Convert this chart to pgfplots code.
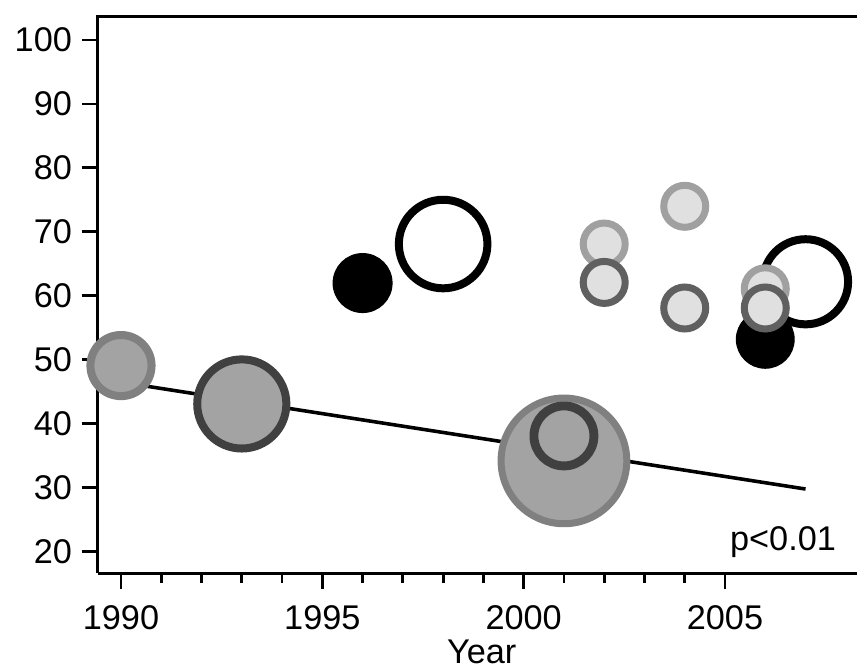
\documentclass[border=0pt]{standalone}
\usepackage{fontspec}
\setmainfont{Liberation Sans}
\usepackage{pgfplots}
\pgfplotsset{compat=1.18}
\definecolor{bigfill}{RGB}{163,163,163}
\definecolor{edgemid}{RGB}{128,128,128}
\definecolor{edgedark}{RGB}{64,64,64}
\definecolor{smallfill}{RGB}{224,224,224}
\definecolor{edgelight}{RGB}{160,160,160}
\definecolor{edgesmalldark}{RGB}{96,96,96}
\begin{document}
\begin{tikzpicture}[font=\fontsize{12}{14}\selectfont]
\begin{axis}[
  scale only axis, width=265.65pt, height=194.95pt,
  at={(0,0)}, anchor=south west,
  xmin=1989.429, xmax=2008.278, ymin=16.67, ymax=103.75,
  axis x line*=bottom, axis y line*=left,
  axis line style={line width=1.05pt, -},
  every tick/.style={black, line width=1pt},
  tick align=outside,
  major tick length=5.6pt, minor tick length=3.5pt,
  xtick={1990,1995,2000,2005}, minor x tick num=4,
  ytick={20,30,40,50,60,70,80,90,100},
  xticklabel style={yshift=-2.3pt},
  /pgf/number format/1000 sep={},
  /pgf/number format/assume math mode=true,
  clip=false, axis on top,
  xlabel={Year},
  xlabel style={at={(axis description cs:0.5055,0)}, anchor=base, yshift=-31.5pt, inner sep=0pt},
]
% large bubbles
\addplot[only marks, mark=*, mark size=10.7pt, mark options={fill=bigfill, draw=edgemid, line width=2.8pt}] coordinates {(1990,49.1)};
\addplot[only marks, mark=*, mark size=15.6pt, mark options={fill=bigfill, draw=edgedark, line width=2.8pt}] coordinates {(1993,43.1)};
\addplot[only marks, mark=*, mark size=22pt, mark options={fill=bigfill, draw=edgemid, line width=2.45pt}] coordinates {(2001,34.2)};
\addplot[only marks, mark=*, mark size=10.5pt, mark options={fill=bigfill, draw=edgedark, line width=3.1pt}] coordinates {(2001,38.1)};
% black filled and open circles
\addplot[only marks, mark=*, mark size=10.3pt, mark options={fill=black, draw=none}] coordinates {(1996,62)};
\addplot[only marks, mark=o, mark size=15.5pt, mark options={draw=black, fill=none, line width=2.8pt}] coordinates {(1998,68.1)};
% small light circles
\addplot[only marks, mark=*, mark size=7.35pt, mark options={fill=smallfill, draw=edgelight, line width=2.45pt}] coordinates {(2002,68.1)};
\addplot[only marks, mark=*, mark size=7.35pt, mark options={fill=smallfill, draw=edgesmalldark, line width=2.45pt}] coordinates {(2002,62.1)};
\addplot[only marks, mark=*, mark size=7.35pt, mark options={fill=smallfill, draw=edgelight, line width=2.45pt}] coordinates {(2004,74.0)};
\addplot[only marks, mark=*, mark size=7.35pt, mark options={fill=smallfill, draw=edgesmalldark, line width=2.45pt}] coordinates {(2004,58.1)};
\addplot[only marks, mark=o, mark size=14.9pt, mark options={draw=black, fill=none, line width=2.8pt}] coordinates {(2007,62.2)};
\addplot[only marks, mark=*, mark size=10.1pt, mark options={fill=black, draw=none}] coordinates {(2006,53.2)};
\addplot[only marks, mark=*, mark size=7.35pt, mark options={fill=smallfill, draw=edgelight, line width=2.45pt}] coordinates {(2006,61.1)};
\addplot[only marks, mark=*, mark size=7.35pt, mark options={fill=smallfill, draw=edgesmalldark, line width=2.45pt}] coordinates {(2006,58.1)};
% regression line
\addplot[black, line width=1.25pt, no marks] coordinates {(1990,46.5) (2007,29.8)};
\draw[line width=1.05pt] (rel axis cs:0,0.9) -- (rel axis cs:0,1) -- (rel axis cs:1,1);
\node[anchor=base east, inner sep=0pt] at (rel axis cs:0.973,0.041) {p<0.01};
\end{axis}
\pgfresetboundingbox
\useasboundingbox (-34.3pt,-33.6pt) rectangle (265.65pt,200.55pt);
\end{tikzpicture}
\end{document}
